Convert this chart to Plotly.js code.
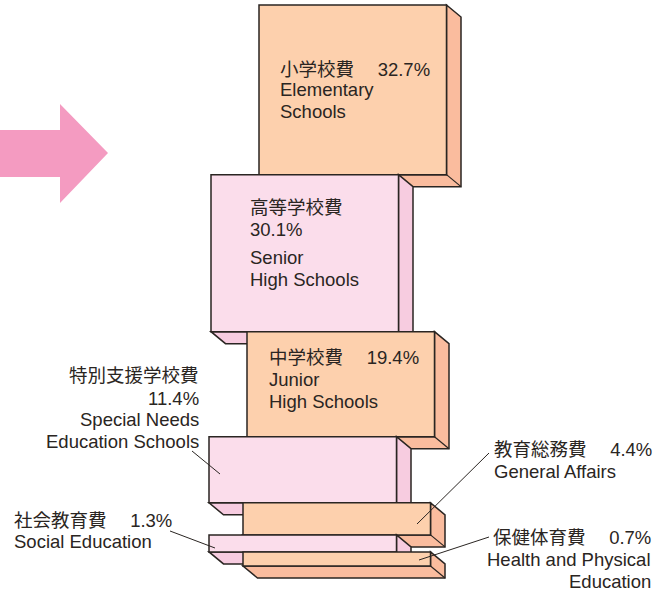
<!DOCTYPE html>
<html><head><meta charset="utf-8">
<script src="https://cdn.plot.ly/plotly-3.0.1.min.js"></script>
<style>html,body{margin:0;padding:0;background:#fff}#chart{width:669px;height:592px}</style>
</head><body><div id="chart"></div>
<script>
// ---- data ----
const categoriesJa = ['小学校費','高等学校費','中学校費','特別支援学校費','教育総務費','社会教育費','保健体育費'];
const categoriesEn = [['Elementary','Schools'],['Senior','High Schools'],['Junior','High Schools'],['Special Needs','Education Schools'],['General Affairs'],['Social Education'],['Health and Physical','Education']];
const shares = [32.7, 30.1, 19.4, 11.4, 4.4, 1.3, 0.7];
const colorGroup = ['orange','pink','orange','pink','orange','pink','orange'];

// ---- layout / style constants ----
const W = 669, H = 592;
const PAD = 2.2;              // minimum thickness added to each block (in % units)
const TOP_PX = 5, BOTTOM_PX = 566;
const boxLeft = [259, 211, 247, 209, 243, 209, 243];
const BOX_W = 187.5, DX = 14.5, DY_PX = 12;
const colors = {
  orange: {front: '#FDD0AD', side: '#FABC9E'},
  pink:   {front: '#FBDDEB', side: '#F7CCE0'}
};
const EDGE = '#2a2522';
const TEXT = '#2a2522';
const FONT = 'Liberation Sans, Arial, Noto Sans CJK JP, sans-serif';

const total = shares.reduce((s, v) => s + v + PAD, 0);
const pxPerUnit = (BOTTOM_PX - TOP_PX) / total;
const yTop = -TOP_PX / pxPerUnit, yBottom = (H - TOP_PX) / pxPerUnit;
const DY = DY_PX / pxPerUnit;

const shapes = [];
// arrow (decorative)
const px = (x, y) => [x / W, 1 - y / H];
const arrowPts = [[0,130],[60,130],[60,104],[108,153],[60,203],[60,177],[0,177]];
shapes.push({type:'path', xref:'paper', yref:'paper', line:{width:0}, fillcolor:'#F49BC1',
  path: 'M' + arrowPts.map(p => px(p[0], p[1]).join(',')).join(' L') + ' Z'});

let cum = 0;
shares.forEach((v, i) => {
  const t = cum, b = cum + v + PAD;
  cum = b;
  const L = boxLeft[i], R = L + BOX_W;
  const c = colors[colorGroup[i]];
  // extrusion (side + bottom face)
  shapes.push({type:'path', xref:'x', yref:'y', fillcolor:c.side, line:{color:EDGE, width:1.5},
    path:`M${R},${t} L${R+DX},${t+DY} L${R+DX},${b+DY} L${L+DX},${b+DY} L${L},${b} L${R},${b} Z`});
  shapes.push({type:'line', xref:'x', yref:'y', x0:R, y0:b, x1:R+DX, y1:b+DY, line:{color:EDGE, width:1.2}});
  // front face
  shapes.push({type:'rect', xref:'x', yref:'y', x0:L, x1:R, y0:t, y1:b, fillcolor:c.front, line:{color:EDGE, width:1.5}});
});

// ---- labels ----
const pct = shares.map(v => v.toFixed(1) + '%');
const labelLines = [
  [categoriesJa[0] + '\u3000 ' + pct[0], ...categoriesEn[0]],
  [categoriesJa[1], pct[1], ...categoriesEn[1]],
  [categoriesJa[2] + '\u3000 ' + pct[2], ...categoriesEn[2]],
  [categoriesJa[3], pct[3], ...categoriesEn[3]],
  [categoriesJa[4] + '\u3000 ' + pct[4], ...categoriesEn[4]],
  [categoriesJa[5] + '\u3000 ' + pct[5], ...categoriesEn[5]],
  [categoriesJa[6] + '\u3000 ' + pct[6], ...categoriesEn[6]]
];
const labelPos = [
  {x:279, anchor:'left',  ys:[69,90,111]},
  {x:249, anchor:'left',  ys:[208,229,258,279]},
  {x:268, anchor:'left',  ys:[357,379,401]},
  {x:200, anchor:'right', ys:[375,398,419,441]},
  {x:493, anchor:'left',  ys:[449,471]},
  {x:13,  anchor:'left',  ys:[520,541]},
  {x:652, anchor:'right', ys:[537,559,581]}
];
const annotations = [];
labelLines.forEach((lines, i) => {
  const p = labelPos[i];
  lines.forEach((txt, k) => {
    const [ax, ay] = px(p.x, p.ys[k]);
    annotations.push({xref:'paper', yref:'paper', x:ax, y:ay, xanchor:p.anchor, yanchor:'middle',
      text: txt, showarrow:false, borderpad:0, font:{family:FONT, size:18.5, color:TEXT}});
  });
});
// leader lines
const leaders = [[192,451,220,474],[489,453,417,524],[170,531,215,548],[489,537,419,560]];
leaders.forEach(l => {
  const a = px(l[0], l[1]), b = px(l[2], l[3]);
  shapes.push({type:'line', xref:'paper', yref:'paper', x0:a[0], y0:a[1], x1:b[0], y1:b[1], line:{color:EDGE, width:1}});
});

Plotly.newPlot('chart', [{x:[], y:[], type:'scatter', hoverinfo:'skip', showlegend:false}], {
  width: W, height: H, margin:{l:0, r:0, t:0, b:0},
  paper_bgcolor:'#fff', plot_bgcolor:'#fff',
  xaxis:{range:[0, W], visible:false, fixedrange:true},
  yaxis:{range:[yBottom, yTop], visible:false, fixedrange:true},
  shapes, annotations, showlegend:false
}, {displayModeBar:false, staticPlot:true});
</script></body></html>
